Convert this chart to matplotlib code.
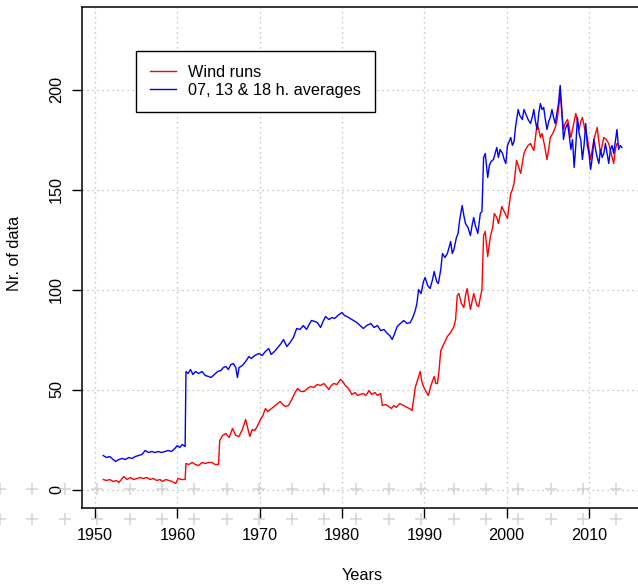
import numpy as np
import matplotlib
matplotlib.use("Agg")
from matplotlib import pyplot as plt

plt.rcParams['font.family'] = ['Liberation Sans', 'DejaVu Sans']

# counts per month, read as (decimal year, value) pairs
wind_years = [1951.0, 1951.4, 1951.8, 1952.2, 1952.6, 1952.9, 1953.2, 1953.5, 1953.9, 1954.3,
              1954.7, 1955.1, 1955.5, 1955.9, 1956.3, 1956.7, 1957.1, 1957.5, 1957.9, 1958.2,
              1958.6, 1959.0, 1959.4, 1959.8, 1960.1, 1960.5, 1960.95, 1961.05, 1961.4, 1961.8,
              1962.2, 1962.6, 1963.0, 1963.4, 1963.8, 1964.2, 1964.6, 1965.0, 1965.15, 1965.5,
              1965.9, 1966.3, 1966.7, 1967.1, 1967.5, 1967.9, 1968.3, 1968.6, 1968.8, 1969.1,
              1969.4, 1969.7, 1970.1, 1970.4, 1970.7, 1971.0, 1971.3, 1971.6, 1971.9, 1972.2,
              1972.5, 1972.8, 1973.1, 1973.5, 1973.9, 1974.3, 1974.6, 1975.0, 1975.4, 1975.8,
              1976.2, 1976.6, 1977.0, 1977.4, 1977.8, 1978.1, 1978.4, 1978.7, 1979.0, 1979.4,
              1979.8, 1980.1, 1980.4, 1980.8, 1981.2, 1981.6, 1981.9, 1982.2, 1982.6, 1982.9,
              1983.3, 1983.6, 1984.0, 1984.3, 1984.7, 1984.9, 1985.3, 1985.7, 1986.0, 1986.3,
              1986.6, 1987.0, 1987.5, 1987.9, 1988.2, 1988.5, 1988.7, 1988.9, 1989.2, 1989.5,
              1989.7, 1989.9, 1990.2, 1990.5, 1990.8, 1991.2, 1991.4, 1991.6, 1991.8, 1992.0,
              1992.4, 1992.8, 1993.1, 1993.4, 1993.6, 1993.8, 1994.0, 1994.2, 1994.5, 1994.8,
              1995.0, 1995.2, 1995.4, 1995.6, 1995.8, 1996.0, 1996.2, 1996.4, 1996.6, 1996.8,
              1997.0, 1997.2, 1997.4, 1997.7, 1998.0, 1998.3, 1998.5, 1998.8, 1999.0, 1999.2,
              1999.4, 1999.7, 2000.1, 2000.3, 2000.5, 2000.7, 2000.9, 2001.2, 2001.4, 2001.7,
              2001.9, 2002.1, 2002.3, 2002.6, 2002.9, 2003.1, 2003.3, 2003.5, 2003.7, 2003.9,
              2004.1, 2004.3, 2004.6, 2004.9, 2005.1, 2005.3, 2005.6, 2005.9, 2006.1, 2006.3,
              2006.5, 2006.7, 2006.9, 2007.1, 2007.4, 2007.6, 2007.8, 2008.1, 2008.4, 2008.6,
              2008.8, 2009.0, 2009.2, 2009.5, 2009.8, 2010.0, 2010.2, 2010.4, 2010.6, 2010.8,
              2011.0, 2011.2, 2011.4, 2011.6, 2011.8, 2012.1, 2012.4, 2012.7, 2013.0, 2013.2,
              2013.4, 2013.6]
wind_runs = [5, 4.5, 5, 4, 4.5, 3.5, 5, 6.5, 5, 6,
             5, 5.5, 6, 5.5, 6, 5, 5.5, 4.5, 5, 4,
             5, 4.5, 4, 3, 5.5, 5, 5, 13, 12.5, 13.5,
             12.5, 12, 13.5, 13, 13.5, 13.5, 12.5, 12.5, 24.5, 27,
             28, 26, 30.5, 27, 26.5, 30, 35, 30, 26.5, 30,
             29.5, 31.5, 35, 37, 40.5, 39, 40, 41, 42, 43,
             44, 42.5, 41.5, 42, 45, 48.5, 50.5, 49, 49, 50.5,
             51.5, 51, 52.5, 52, 53, 51.5, 50, 52, 53, 52.5,
             55, 54, 52, 50.5, 47.5, 48.5, 47, 47.5, 48, 47,
             49.5, 47.5, 48.5, 47, 48, 42, 42.5, 41.5, 40.5, 42,
             41, 43, 42, 41, 40.5, 39.5, 45, 51, 55, 59,
             54, 51.5, 49, 47, 52, 56.5, 53, 53, 60, 69.5,
             73, 76.5, 78, 80, 81.5, 85, 97, 98, 93, 91,
             97, 100.5, 95, 90, 94, 98, 95, 92, 91.5, 96,
             100, 127, 129, 116.5, 126, 131, 138, 136, 133, 137,
             141.5, 139, 135.5, 142, 148, 150, 153, 164.5, 162, 158,
             163, 168, 170, 172, 173, 171, 169.5, 176, 183, 180,
             176, 178, 172, 165, 170, 176, 178, 181, 184, 190,
             199, 188, 180, 183, 185, 181, 176, 182, 188, 184,
             180, 184, 186, 180, 176, 170, 165, 170, 175, 178,
             181, 174, 168, 172, 176, 175, 173, 168, 163, 170,
             173, 172]

avg_years = [1951.0, 1951.4, 1951.8, 1952.2, 1952.5, 1952.9, 1953.3, 1953.7, 1954.1, 1954.5,
             1954.9, 1955.3, 1955.7, 1956.1, 1956.5, 1956.9, 1957.3, 1957.7, 1958.1, 1958.5,
             1958.9, 1959.3, 1959.7, 1960.0, 1960.3, 1960.6, 1960.95, 1961.05, 1961.3, 1961.6,
             1961.9, 1962.2, 1962.6, 1963.0, 1963.4, 1963.8, 1964.1, 1964.5, 1964.9, 1965.3,
             1965.6, 1965.9, 1966.2, 1966.5, 1966.8, 1967.1, 1967.3, 1967.5, 1967.9, 1968.3,
             1968.7, 1969.0, 1969.4, 1969.9, 1970.3, 1970.7, 1971.1, 1971.4, 1971.8, 1972.2,
             1972.6, 1972.9, 1973.3, 1973.7, 1974.1, 1974.5, 1974.9, 1975.3, 1975.7, 1976.0,
             1976.3, 1976.7, 1977.0, 1977.4, 1977.7, 1978.0, 1978.4, 1978.8, 1979.1, 1979.5,
             1980.0, 1980.3, 1980.6, 1981.0, 1981.4, 1981.8, 1982.2, 1982.6, 1983.0, 1983.5,
             1983.9, 1984.3, 1984.7, 1985.1, 1985.5, 1985.8, 1986.1, 1986.4, 1986.7, 1987.1,
             1987.5, 1987.9, 1988.3, 1988.6, 1988.9, 1989.1, 1989.3, 1989.6, 1989.9, 1990.1,
             1990.4, 1990.7, 1991.0, 1991.2, 1991.5, 1991.7, 1992.0, 1992.2, 1992.5, 1992.8,
             1993.0, 1993.2, 1993.4, 1993.6, 1993.9, 1994.1, 1994.3, 1994.6, 1994.8, 1995.0,
             1995.3, 1995.6, 1995.8, 1996.0, 1996.2, 1996.5, 1996.8, 1997.0, 1997.2, 1997.4,
             1997.7, 1997.9, 1998.1, 1998.4, 1998.6, 1998.8, 1999.0, 1999.2, 1999.5, 1999.7,
             1999.9, 2000.1, 2000.3, 2000.5, 2000.7, 2000.9, 2001.1, 2001.4, 2001.6, 2001.9,
             2002.1, 2002.3, 2002.6, 2002.9, 2003.1, 2003.3, 2003.5, 2003.7, 2003.9, 2004.1,
             2004.3, 2004.5, 2004.7, 2004.9, 2005.1, 2005.3, 2005.5, 2005.7, 2005.9, 2006.1,
             2006.3, 2006.5, 2006.7, 2006.9, 2007.1, 2007.4, 2007.6, 2007.8, 2008.0, 2008.2,
             2008.4, 2008.6, 2008.8, 2009.0, 2009.2, 2009.4, 2009.6, 2009.8, 2010.0, 2010.2,
             2010.4, 2010.6, 2010.8, 2011.0, 2011.2, 2011.4, 2011.6, 2011.8, 2012.0, 2012.2,
             2012.4, 2012.6, 2012.8, 2013.0, 2013.2, 2013.4, 2013.6, 2013.8, 2014.0]
avg_counts = [17, 16, 16.5, 15, 14, 15, 15.5, 15, 16, 15.5,
              16.5, 17, 17.5, 19.5, 18.5, 19, 18.5, 19, 18.5, 19,
              19.5, 19, 20.5, 22, 21, 22.5, 21.5, 59, 58, 60,
              57.5, 59, 58, 59, 57, 56.5, 56, 57.5, 59, 59.5,
              61, 61.5, 60, 62.5, 63, 61, 56, 61, 62, 64,
              66.5, 65.5, 67, 68, 67, 69, 70.5, 67.5, 69, 71,
              73, 75, 71.5, 73.5, 76, 80.5, 80, 82, 80, 82.5,
              84.5, 84, 83.5, 81, 84, 86.5, 85, 86, 85.5, 87,
              88.5, 87, 86.5, 85.5, 84.5, 83.5, 82, 80.5, 82, 83,
              81, 82, 79.5, 80, 78, 77, 75, 78, 81.5, 83,
              84.5, 83, 83.5, 86, 89.5, 93, 100, 98, 104, 106,
              102, 100.5, 105, 109, 104, 103, 110, 118, 116, 118,
              121, 124, 118, 120, 126, 128, 135, 142, 137, 133,
              131, 127, 132, 136, 132, 128, 138, 139, 166, 168,
              156, 162, 164, 165, 168, 171, 166, 170, 168, 165,
              163, 172, 174, 176, 172, 174, 182, 190, 187, 185,
              190, 188, 185, 183, 186, 190, 184, 180, 188, 193,
              190, 191, 185, 180, 184, 186, 190, 186, 183, 188,
              193, 202, 190, 175, 180, 183, 177, 170, 175, 161,
              172, 186, 178, 175, 165, 172, 183, 172, 168, 160,
              166, 175, 170, 166, 163, 170, 166, 168, 173, 168,
              163, 170, 172, 168, 174, 180, 170, 172, 171]

x_ticks = [1950, 1960, 1970, 1980, 1990, 2000, 2010]
y_ticks = [0, 50, 100, 150, 200]

W, H = 638, 584
FS = 11.7
fig = plt.figure(figsize=(W / 100, H / 100), dpi=100)

# plot region in pixels (left, top, right, bottom); right edge runs past the canvas
left, top, right, bottom = 82.3, 6.7, 642.5, 508.3
ax = fig.add_axes([left / W, 1 - bottom / H, (right - left) / W, (bottom - top) / H])

ax.plot(wind_years, wind_runs, color='red', lw=1.0, label='Wind runs')
ax.plot(avg_years, avg_counts, color='blue', lw=1.0, label='07, 13 & 18 h. averages')

ax.set_xlim(1948.46, 2016.5)
ax.set_ylim(-9.4, 241.4)
ax.set_xticks(x_ticks)
ax.set_yticks(y_ticks)
ax.grid(True, color='#b4b4b4', linestyle=(0, (1, 3)), lw=0.9)
ax.set_axisbelow(True)

for s in ax.spines.values():
    s.set_linewidth(1.1)
ax.tick_params(direction='out', length=7, width=1.0, labelsize=FS)
ax.tick_params(axis='x', pad=7.5)
ax.tick_params(axis='y', pad=6)
for lbl in ax.get_yticklabels():
    lbl.set_rotation(90)
    lbl.set_va('center')

fig.text(362 / W, 1 - 575 / H, 'Years', ha='center', va='center', fontsize=FS)
fig.text(15 / W, 1 - 253 / H, 'Nr. of data', ha='center', va='center', rotation=90, fontsize=FS)

leg = ax.legend(loc='upper left', bbox_to_anchor=(136 / W, 1 - 50.7 / H),
                bbox_transform=fig.transFigure, fontsize=FS, frameon=True,
                fancybox=False, framealpha=1, edgecolor='black', borderaxespad=0,
                handlelength=1.6, handletextpad=0.75, labelspacing=0.22, borderpad=0.85)
leg.get_frame().set_linewidth(1.0)

# faint cross pattern along the baseline rows
overlay = fig.add_axes([0, 0, 1, 1], facecolor='none')
overlay.set_xlim(0, W)
overlay.set_ylim(H, 0)
overlay.axis('off')
cols = np.arange(0, W + 1, 32.4)
for row in (489, 518.5):
    overlay.plot(cols, np.full(len(cols), row), ls='none', marker='+', ms=9,
                 mew=1.1, color='#c8c8c8', alpha=0.8)

fig.savefig('out.png', dpi=100)
